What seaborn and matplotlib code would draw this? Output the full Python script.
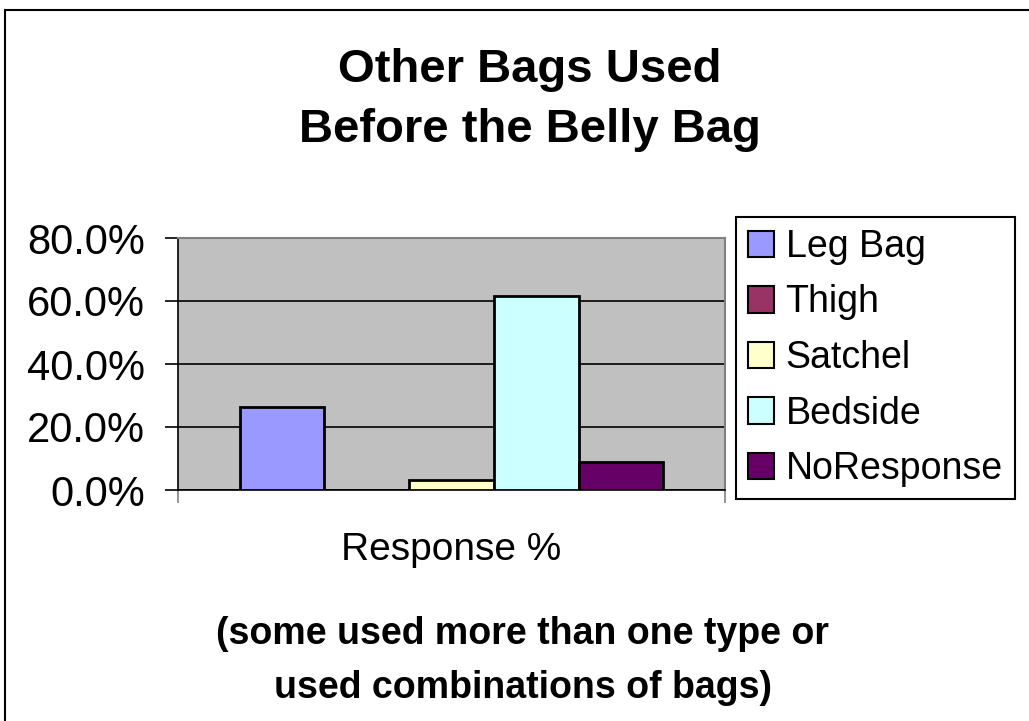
import numpy as np
import pandas as pd
import matplotlib
matplotlib.use("Agg")
import matplotlib.pyplot as plt
import seaborn as sns
from matplotlib.ticker import FuncFormatter, FixedLocator
from matplotlib.patches import Rectangle

# data
bags = ["Leg Bag", "Thigh", "Satchel", "Bedside", "NoResponse"]
response_pct = [26.5, 0.0, 3.2, 61.5, 8.8]
category = ["Response %"] * len(bags)
bag_colors = ["#9999FF", "#993366", "#FFFFCC", "#CCFFFF", "#660066"]

df = pd.DataFrame({"gruppe": category, "bag": bags, "pct": response_pct})

sns.set_style("white")
plt.rcParams["font.family"] = ["Liberation Sans", "DejaVu Sans"]
plt.rcParams["text.color"] = "black"
plt.rcParams["xtick.color"] = "black"
plt.rcParams["ytick.color"] = "black"
plt.rcParams["xtick.labelcolor"] = "black"
plt.rcParams["ytick.labelcolor"] = "black"

fig = plt.figure(figsize=(10.29, 7.21), dpi=100)
ax = fig.add_axes([178 / 1029, 1 - 490 / 721, 547 / 1029, 252 / 721])
ax.set_facecolor("#C0C0C0")

sns.barplot(data=df, x="gruppe", y="pct", hue="bag", hue_order=bags,
            palette=bag_colors, saturation=1, width=0.775, gap=0,
            edgecolor="black", linewidth=2, ax=ax, zorder=3)

ax.set_ylim(0, 80)
ax.set_xlim(-0.5, 0.5)
ax.yaxis.set_major_locator(FixedLocator([0, 20, 40, 60, 80]))
ax.yaxis.set_major_formatter(FuncFormatter(lambda v, p: f"{v:.1f}%"))
ax.grid(axis="y", color="black", linewidth=1.2, zorder=1)
ax.set_axisbelow(True)

# spines like the old Excel plot area
for s in ["top", "right"]:
    ax.spines[s].set_color("#808080")
    ax.spines[s].set_linewidth(1.5)
ax.spines["left"].set_color("black")
ax.spines["left"].set_linewidth(1.2)
ax.spines["bottom"].set_color("black")
ax.spines["bottom"].set_linewidth(1.2)

ax.tick_params(axis="y", which="major", direction="out", length=9.5, width=1.2,
               color="black", labelsize=30, pad=14, left=True)
ax.tick_params(axis="x", which="major", length=0, labelsize=28, pad=30)
ax.set_xticks([-0.5, 0.5], minor=True)
ax.tick_params(axis="x", which="minor", direction="out", length=9, width=1.2,
               color="#808080", bottom=True)
ax.set_xlabel("")
ax.set_ylabel("")

leg = ax.legend(loc="upper left", bbox_to_anchor=(736 / 1029, 1 - 217 / 721),
                bbox_transform=fig.transFigure, borderaxespad=0, fontsize=27,
                handlelength=0.7, handleheight=0.7, handletextpad=0.3,
                labelspacing=0.52, borderpad=0.32, fancybox=False,
                frameon=True, framealpha=1, edgecolor="black")
leg.get_frame().set_linewidth(1.5)
for h in leg.legend_handles:
    h.set_edgecolor("black")
    h.set_linewidth(1.5)

fig.text(530 / 1029, 1 - 100 / 721, "Other Bags Used\nBefore the Belly Bag",
         ha="center", va="center", fontsize=34, fontweight="bold",
         linespacing=1.5)
fig.text(523 / 1029, 1 - 661 / 721,
         "(some used more than one type or\nused combinations of bags)",
         ha="center", va="center", fontsize=27, fontweight="bold",
         linespacing=1.65)

fig.patches.append(Rectangle((5 / 1029, -0.05), 1.0, 1.05 - 10 / 721,
                             transform=fig.transFigure, fill=False,
                             edgecolor="black", linewidth=1.5))

fig.savefig("out.png", dpi=100)
